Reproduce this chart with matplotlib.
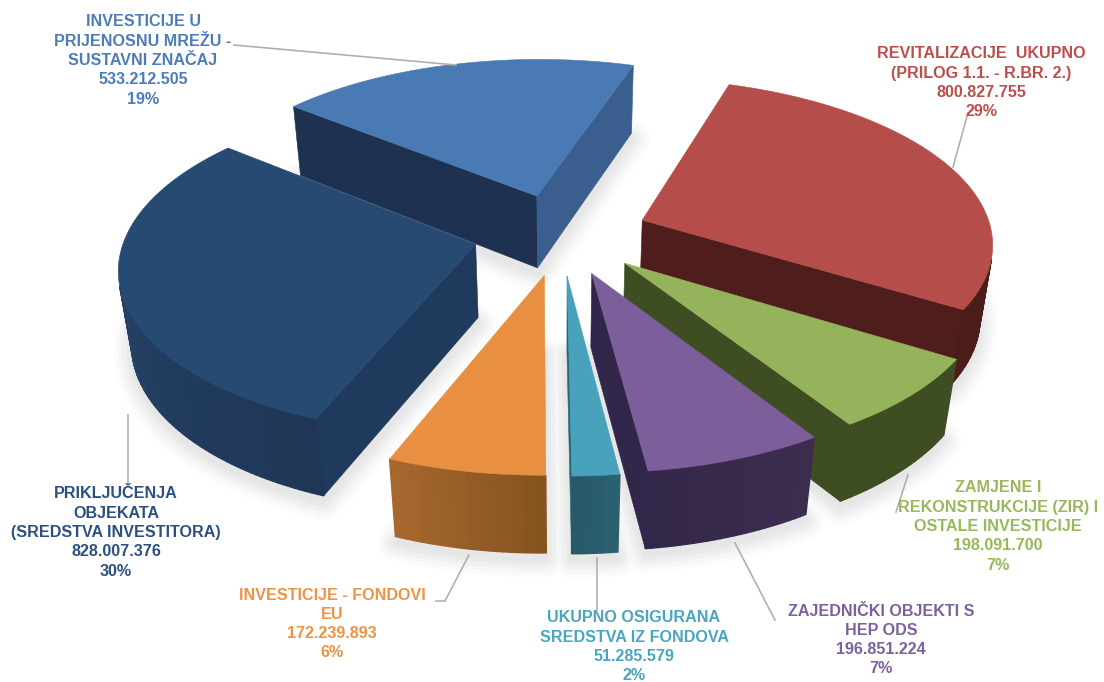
import numpy as np
import matplotlib
matplotlib.use("Agg")
import matplotlib.pyplot as plt
from matplotlib.colors import to_rgb

plt.rcParams['font.family'] = ['Liberation Sans', 'DejaVu Sans']

# data, clockwise from the top right
names = [
    ["REVITALIZACIJE  UKUPNO", "(PRILOG 1.1. - R.BR. 2.)"],
    ["ZAMJENE I", "REKONSTRUKCIJE (ZIR) I", "OSTALE INVESTICIJE"],
    ["ZAJEDNIČKI OBJEKTI S", "HEP ODS"],
    ["UKUPNO OSIGURANA", "SREDSTVA IZ FONDOVA"],
    ["INVESTICIJE - FONDOVI", "EU"],
    ["PRIKLJUČENJA", "OBJEKATA", "(SREDSTVA INVESTITORA)"],
    ["INVESTICIJE U", "PRIJENOSNU MREŽU -", "SUSTAVNI ZNAČAJ"],
]
values = [800827755, 198091700, 196851224, 51285579, 172239893, 828007376, 533212505]

# colours
top_colors = ["#B54D4A", "#95B35A", "#7B5E9A", "#48A2BC", "#E98F42", "#274A72", "#4A7AB3"]
start_face = ["#4F1E1C", "#3F4D22", "#32264A", "#1F5566", "#8A5523", "#1F3A5C", "#1E3150"]
end_face = ["#4F1E1C", "#3F4D22", "#32264A", "#2B6578", "#8A5523", "#20385A", "#3A5F8F"]
rim_from = ["#4F1E1C", "#3F4D22", "#3C2D4F", "#2A6070", "#85531F", "#1F3656", "#3A5F8F"]
rim_to = ["#4A1C1A", "#3F4D22", "#33274A", "#275866", "#A8692F", "#2A4C74", "#3A5F8F"]
text_colors = ["#BC4F4C", "#96B95A", "#7D619F", "#4AA5BF", "#EC9345", "#2C5180", "#4C7DB9"]

# label layout in pixels: centre x, first line y
label_pos = [(981, 54), (998, 488), (881, 611), (634, 618), (332, 595), (116, 494), (143, 22)]
line_step = 19.3
leaders = [
    [(968, 113), (953, 167)],
    [(908, 475), (896, 512)],
    [(735, 543), (775, 620)],
    [(597, 558), (597, 610)],
    [(469, 555), (445, 601), (436, 601)],
    [(128, 415), (128, 483)],
    [(234, 45), (456, 65)],
]

# camera
CX, CY = 561, 234
RX, RY = 350, 163
HEIGHT = 75
PERSP = 0.127
PERSP_Z = 0.03
EXPLODE = 0.25
START = 18.0


def project(x, y, z):
    w = 1 + PERSP * y + PERSP_Z * z
    return CX + RX * x / w, CY + (-RY * y + HEIGHT * z) / w


def mix(a, b, t):
    a, b = np.array(to_rgb(a)), np.array(to_rgb(b))
    return tuple(a + (b - a) * t)


def area(pts):
    xs, ys = zip(*pts)
    return 0.5 * sum(xs[i] * ys[(i + 1) % len(pts)] - xs[(i + 1) % len(pts)] * ys[i] for i in range(len(pts)))


total = sum(values)
fig = plt.figure(figsize=(11.04, 6.82), dpi=100)
ax = fig.add_axes([0, 0, 1, 1])
ax.set_xlim(0, 1104)
ax.set_ylim(682, 0)
ax.axis("off")

slices = []
a0 = START
for i, v in enumerate(values):
    a1 = a0 + v / total * 360
    mid = np.radians((a0 + a1) / 2)
    ox, oy = EXPLODE * np.sin(mid), EXPLODE * np.cos(mid)
    th = np.radians(np.linspace(a0, a1, max(int(a1 - a0), 4) + 1))
    xs = ox + np.sin(th)
    ys = oy + np.cos(th)
    slices.append((i, ox, oy, xs, ys, np.cos(mid)))
    a0 = a1

# soft shadow under the slices
z = 0
for lw, col in [(26, "#FBFBFB"), (20, "#F6F6F6"), (14, "#F0F0F0"), (8, "#EAEAEA"), (3, "#E6E6E6")]:
    z += 1
    for i, ox, oy, xs, ys, _ in slices:
        px, py = project(np.r_[ox, xs], np.r_[oy, ys], 1.04)
        ax.fill(px, py + 3, fc=col, ec=col, lw=lw, joinstyle="round", zorder=z)

# back to front
z = 10
for i, ox, oy, xs, ys, depth in sorted(slices, key=lambda s: -s[5]):
    # flat cut faces
    for k, col in [(0, start_face[i]), (-1, end_face[i])]:
        quad = [project(ox, oy, 0), project(xs[k], ys[k], 0), project(xs[k], ys[k], 1), project(ox, oy, 1)]
        # only the faces turned to the camera
        sign = area(quad) if k == -1 else -area(quad)
        if sign > 0:
            qx, qy = zip(*quad)
            z += 1
            ax.fill(qx, qy, fc=col, ec=col, lw=0.4, zorder=z)
    # outer rim in narrow strips for the gradient
    for k in range(len(xs) - 1):
        quad = [project(xs[k], ys[k], 0), project(xs[k + 1], ys[k + 1], 0),
                project(xs[k + 1], ys[k + 1], 1), project(xs[k], ys[k], 1)]
        if area(quad) < 0:
            qx, qy = zip(*quad)
            col = mix(rim_from[i], rim_to[i], k / (len(xs) - 1))
            z += 1
            ax.fill(qx, qy, fc=col, ec=col, lw=1.0, zorder=z)
    px, py = project(np.r_[ox, xs], np.r_[oy, ys], 0)
    z += 1
    ax.fill(px, py, fc=top_colors[i], ec=top_colors[i], lw=0.4, zorder=z)

for line in leaders:
    lx, ly = zip(*line)
    ax.plot(lx, ly, color="#B0B0B0", lw=1.2, zorder=500)

for i, v in enumerate(values):
    lines = names[i] + [f"{v:,}".replace(",", "."), f"{round(v / total * 100)}%"]
    x0, y0 = label_pos[i]
    for n, s in enumerate(lines):
        ax.text(x0, y0 + n * line_step, s, color=text_colors[i], fontsize=11.6, fontweight="bold",
                ha="center", va="center", zorder=600)

fig.savefig("out.png", dpi=100, facecolor="white")
